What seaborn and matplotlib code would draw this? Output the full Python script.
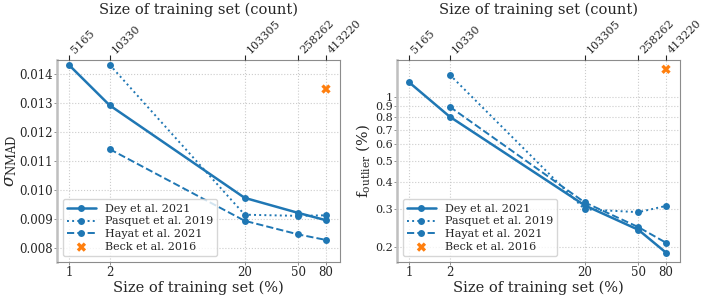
import numpy as np
import pandas as pd
import seaborn as sns
import matplotlib.pyplot as plt

# tamanho do conjunto de treino (%) e contagem correspondente
pct = [1, 2, 20, 50, 80]
contagem = ["5165", "10330", "103305", "258262", "413220"]

# sigma NMAD
dey_nmad = [0.01431, 0.01292, 0.00973, 0.00921, 0.00896]
pasquet_nmad = [0.01432, 0.00915, 0.00911, 0.00913]
hayat_nmad = [0.01141, 0.00894, 0.00847, 0.00828]
beck_nmad = [0.01348]

# fracao de outliers (%)
dey_out = [1.167, 0.807, 0.312, 0.240, 0.188]
pasquet_out = [1.266, 0.299, 0.290, 0.310]
hayat_out = [0.898, 0.322, 0.247, 0.209]
beck_out = [1.34]

sns.set_style("whitegrid", {"grid.linestyle": ":", "grid.color": ".8",
                            "axes.edgecolor": ".5"})
plt.rcParams["font.family"] = ["DejaVu Serif"]
plt.rcParams["mathtext.fontset"] = "dejavuserif"

azul = "#1f77b4"
laranja = "#ff7f0e"

fig = plt.figure(figsize=(7.06, 2.99), dpi=100)
ax1 = fig.add_axes([0.0807, 0.1237, 0.4008, 0.6756])
ax2 = fig.add_axes([0.5623, 0.1237, 0.4008, 0.6756])


def painel(ax, dey, pasquet, hayat, beck):
    sns.lineplot(x=pct, y=dey, ax=ax, color=azul, marker="o", markersize=5,
                 markeredgewidth=0, linewidth=1.8, label="Dey et al. 2021")
    sns.lineplot(x=pct[1:], y=pasquet, ax=ax, color=azul, marker="o", markersize=5,
                 markeredgewidth=0, linewidth=1.4, linestyle=":", label="Pasquet et al. 2019")
    sns.lineplot(x=pct[1:], y=hayat, ax=ax, color=azul, marker="o", markersize=5,
                 markeredgewidth=0, linewidth=1.4, linestyle="--", dashes=(4, 2),
                 label="Hayat et al. 2021")
    sns.scatterplot(x=pct[-1:], y=beck, ax=ax, color=laranja, marker="X", s=45,
                    edgecolor="none", label="Beck et al. 2016")
    ax.set_xscale("log")
    ax.set_xlim(0.815, 101.5)
    ax.set_xticks(pct)
    ax.set_xticklabels([str(p) for p in pct])
    ax.minorticks_off()
    ax.tick_params(labelsize=8.5, pad=1, left=True, length=2, width=0.6, color=".5")
    ax.tick_params(axis="x", bottom=False)
    ax.set_xlabel("Size of training set (%)", fontsize=10.5, labelpad=1)
    ax.legend(loc="lower left", fontsize=8, frameon=True, handlelength=2.6,
              borderpad=0.4, labelspacing=0.25)
    for s in ax.spines.values():
        s.set_color(".55")
    ax.spines["left"].set_color(".75")
    ax.spines["left"].set_linewidth(1.8)

    top = ax.twiny()
    top.set_xscale("log")
    top.set_xlim(ax.get_xlim())
    top.set_xticks(pct)
    top.set_xticklabels(contagem, rotation=45, ha="left")
    top.minorticks_off()
    top.grid(False)
    top.tick_params(labelsize=8, pad=0)
    top.set_xlabel("Size of training set (count)", fontsize=10.5, labelpad=3)
    for s in top.spines.values():
        s.set_visible(False)
    return top


painel(ax1, dey_nmad, pasquet_nmad, hayat_nmad, beck_nmad)
ax1.set_ylim(0.00752, 0.01448)
ax1.set_yticks([0.008, 0.009, 0.010, 0.011, 0.012, 0.013, 0.014])
ax1.set_yticklabels(["0.008", "0.009", "0.010", "0.011", "0.012", "0.013", "0.014"])
ax1.set_ylabel(r"$\sigma_{\mathrm{NMAD}}$", fontsize=12, labelpad=0)

painel(ax2, dey_out, pasquet_out, hayat_out, beck_out)
ax2.set_yscale("log")
ax2.set_ylim(0.17, 1.48)
yt = [0.2, 0.3, 0.4, 0.5, 0.6, 0.7, 0.8, 0.9, 1]
ax2.set_yticks(yt)
ax2.set_yticklabels(["0.2", "0.3", "0.4", "0.5", "0.6", "0.7", "0.8", "0.9", "1"])
ax2.tick_params(axis="y", labelsize=8)
ax2.minorticks_off()
ax2.set_ylabel(r"$\mathrm{f}_{\mathrm{outlier}}$ (%)", fontsize=11, labelpad=2)

fig.savefig("out.png", dpi=100)
